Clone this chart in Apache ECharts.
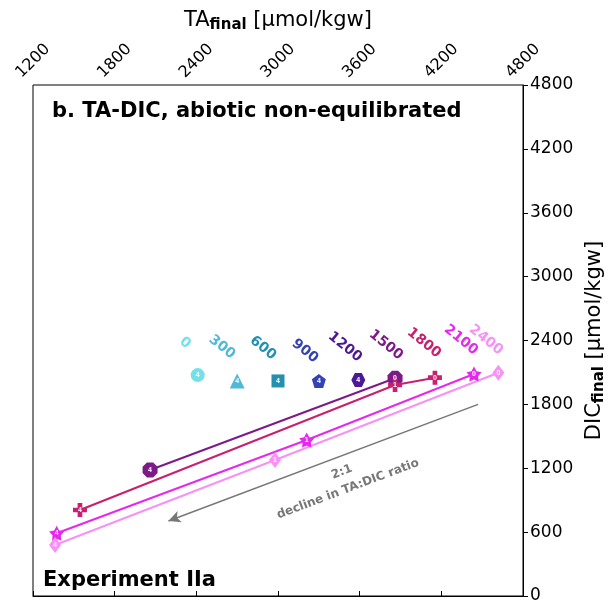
<!DOCTYPE html>
<html>
<head>
<meta charset="utf-8">
<script src="https://cdn.jsdelivr.net/npm/echarts@6/dist/echarts.min.js"></script>
<style>html,body{margin:0;padding:0;background:#fff}#c{width:609px;height:604px}</style>
</head>
<body>
<div id="c"></div>
<script>
// ---- data ----
const levels = ['0','300','600','900','1200','1500','1800','2100','2400'];
const taValues = [[2410],[2700],[3000],[3300],[3590],[2060,3860],[1545,3860,4153],[1374,3211,4440],[1362,2978,4619]];
const dicValues = [[2075],[2020],[2020],[2020],[2030],[1184,2045],[808,1982,2051],[589,1465,2085],[479,1277,2097]];
const stepLabels = [['4'],['4'],['4'],['4'],['4'],['4','0'],['4','1','0'],['4','1','0'],['4','1','0']];
const arrowFrom = [4470, 1800];
const arrowTo = [2195, 705];
const xTicks = [1200,1800,2400,3000,3600,4200,4800];
const yTicks = [0,600,1200,1800,2400,3000,3600,4200,4800];

// ---- styles ----
const colors = ['#72e2ea','#52b8d8','#2290b0','#3442b2','#4c1896','#7e1a88','#c8206e','#e628ee','#f890f6'];
function poly(n, r0, rot, inner){
  let pts=[]; const m = inner? n*2 : n;
  for(let i=0;i<m;i++){
    const a = rot + i*2*Math.PI/m;
    const r = (inner && i%2) ? inner : r0;
    pts.push((r*Math.cos(a)).toFixed(3)+','+(r*Math.sin(a)).toFixed(3));
  }
  return 'path://M'+pts.join(' L')+' Z';
}
const plusPath = 'path://M-1,-3 L1,-3 L1,-1 L3,-1 L3,1 L1,1 L1,3 L-1,3 L-1,1 L-3,1 L-3,-1 L-1,-1 Z';
const symbols = ['circle','triangle','rect', poly(5,1,-Math.PI/2), poly(6,1,0), poly(8,1,Math.PI/8), plusPath, poly(5,1,-Math.PI/2,0.55), 'diamond'];
const sizes = [14,15,13,14,14,15,14,15,[12,16]];

const series = levels.map((lv,i)=>({
  name: lv, type:'line',
  data: taValues[i].map((t,j)=>[t, dicValues[i][j]]),
  symbol: symbols[i], symbolSize: sizes[i], showSymbol:true,
  lineStyle:{color:colors[i], width:2},
  itemStyle:{color:colors[i]},
  label:{show:true, position:'inside', color:'#fff', fontSize:7, fontWeight:'bold',
    formatter: p => stepLabels[i][p.dataIndex]},
  z: 3
}));
series.push({
  type:'line', data:[], silent:true,
  markLine:{ silent:true, symbol:['none','arrow'], symbolSize:[9,12],
    lineStyle:{color:'#777', width:1.5, type:'solid'}, label:{show:false},
    data:[[{coord:arrowFrom},{coord:arrowTo}]] }
});

const chart = echarts.init(document.getElementById('c'));
const legendPos = [[185,343],[222,347],[263,348],[305,351],[345,347],[386,345],[424,343],[461,340],[486,340]];
const graphics = levels.map((lv,i)=>({
  type:'text', x:legendPos[i][0], y:legendPos[i][1], rotation:-0.68,
  style:{text:lv, fill:colors[i], font:'bold 14px "DejaVu Sans"', align:'center', verticalAlign:'middle'}, z:10
}));
graphics.push(
  {type:'text', left:52, top:101, style:{text:'b. TA-DIC, abiotic non-equilibrated', fill:'#000', font:'bold 21px "DejaVu Sans"'}},
  {type:'text', left:43, top:570, style:{text:'Experiment IIa', fill:'#000', font:'bold 21px "DejaVu Sans"'}},
  {type:'text', x:342, y:472, rotation:0.36, style:{text:'2:1', fill:'#777', font:'bold 12px "DejaVu Sans"', align:'center', verticalAlign:'middle'}},
  {type:'text', x:348, y:489, rotation:0.36, style:{text:'decline in TA:DIC ratio', fill:'#777', font:'bold 12px "DejaVu Sans"', align:'center', verticalAlign:'middle'}}
);

chart.setOption({
  animation:false,
  backgroundColor:'#fff',
  grid:{left:33, right:86, top:85, bottom:8, show:true, borderColor:'#000', borderWidth:1, outerBoundsMode:'none', containLabel:false},
  xAxis:{
    type:'value', position:'top', min:1200, max:4800, interval:600,
    axisLine:{show:true, lineStyle:{color:'#000', width:1}},
    axisTick:{show:true, length:5, lineStyle:{color:'#000'}},
    splitLine:{show:false},
    axisLabel:{rotate:45, color:'#000', fontSize:16, fontFamily:'DejaVu Sans', margin:24, align:'center', verticalAlign:'middle',
      formatter: v => xTicks.includes(v) ? String(v) : ''},
    name:'{a|TA}{b|final}{a| [μmol/kgw]}', nameLocation:'middle', nameGap:52,
    nameTextStyle:{rich:{a:{fontSize:21, fontFamily:'DejaVu Sans', color:'#000'}, b:{fontSize:15, fontWeight:'bold', fontFamily:'DejaVu Sans', color:'#000', padding:[9,0,0,0]}}}
  },
  yAxis:{
    type:'value', position:'right', min:0, max:4800, interval:600,
    axisLine:{show:true, lineStyle:{color:'#000', width:1}},
    axisTick:{show:true, length:5, lineStyle:{color:'#000'}},
    splitLine:{show:false},
    axisLabel:{color:'#000', fontSize:17, fontFamily:'DejaVu Sans', margin:7,
      formatter: v => yTicks.includes(v) ? String(v) : ''},
    name:'{a|DIC}{b|final}{a| [μmol/kgw]}', nameLocation:'middle', nameGap:58, nameRotate:90,
    nameTextStyle:{rich:{a:{fontSize:21, fontFamily:'DejaVu Sans', color:'#000'}, b:{fontSize:15, fontWeight:'bold', fontFamily:'DejaVu Sans', color:'#000', padding:[9,0,0,0]}}}
  },
  series: series,
  graphic: graphics
});
</script>
</body>
</html>
